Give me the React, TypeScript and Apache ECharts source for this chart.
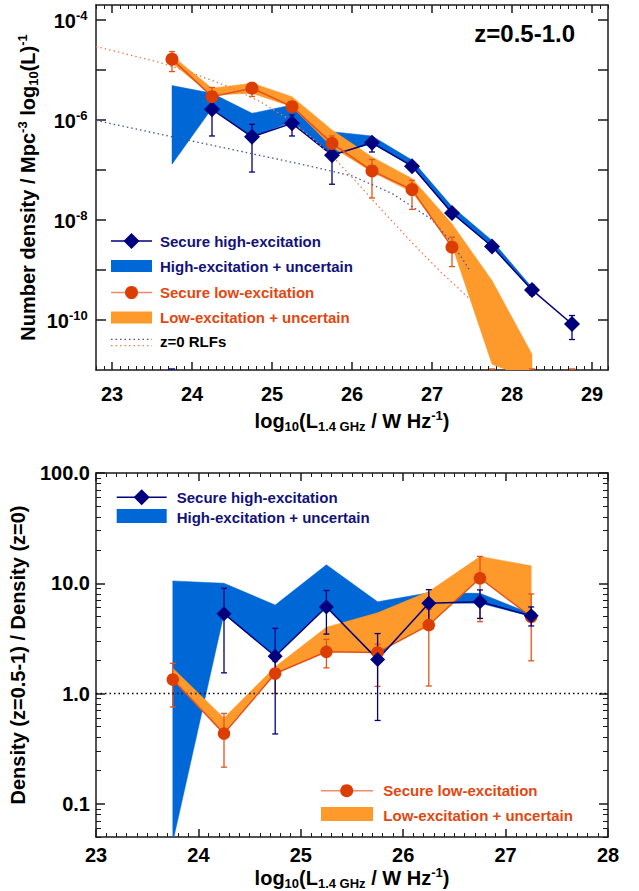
import React, { useEffect, useRef } from 'react';
import * as echarts from 'echarts';

const FONT = '"Liberation Sans", Arial, Helvetica, sans-serif';
const NAVY = '#00007f';
const BLUE_BAND = '#0067d6';
const ORANGE_BAND = '#fe9a2c';
const ORANGE_PT = '#dc3d00';
const ORANGE_LINE = '#e4521c';
const ORANGE_LEGEND_LINE = '#f08c68';
const BLUE_DOT = '#4d4da6';
const ORANGE_DOT = '#f07a4a';
const NAVY_TEXT = '#12127a';
const ORANGE_TEXT = '#e2470f';
const AXIS_COLOR = '#1a1a1a';

// ---------------- top panel: luminosity functions (Mpc^-3 log10(L)^-1) ----------------
const topHighX = [24.25, 24.75, 25.25, 25.75, 26.25, 26.75, 27.25, 27.75, 28.25, 28.75];
const topHighPhi = [1.64e-6, 4.61e-7, 8.57e-7, 1.98e-7, 3.5e-7, 1.19e-7, 1.38e-8, 2.95e-9, 4.0e-10, 8.3e-11];
const topHighErrX = [23.75, 24.25, 24.75, 25.25, 25.75, 26.25, 26.75, 27.25, 27.75, 28.25, 28.75];
const topHighErrLo = [1e-12, 4.79e-7, 9.1e-8, 4.79e-7, 5.19e-8, 2.29e-7, 1.0e-7, 1.17e-8, 2.51e-9, 3.16e-10, 4.07e-11];
const topHighErrHi = [1.05e-11, 2.4e-6, 8.18e-7, 1.26e-6, 2.82e-7, 4.37e-7, 1.41e-7, 1.58e-8, 3.47e-9, 5.0e-10, 1.23e-10];
const topHighBandX = [23.75, 24.25, 24.75, 25.25, 25.75, 26.25, 26.75, 27.25, 27.75, 28.25];
const topHighBandHi = [4.88e-6, 3.43e-6, 1.36e-6, 2.0e-6, 5.81e-7, 4.79e-7, 1.58e-7, 1.86e-8, 3.89e-9, 4.47e-10];
const topHighBandLo = [1.31e-7, 1.71e-6, 4.61e-7, 9.23e-7, 1.98e-7, 3.39e-7, 1.2e-7, 1.35e-8, 2.95e-9, 3.98e-10];

const topLowX = [23.75, 24.25, 24.75, 25.25, 25.75, 26.25, 26.75, 27.25];
const topLowPhi = [1.65e-5, 2.93e-6, 4.32e-6, 1.85e-6, 3.4e-7, 9.6e-8, 4.06e-8, 2.86e-9];
const topLowErrX = [23.75, 24.25, 24.75, 25.25, 25.75, 26.25, 26.75, 27.25, 27.75, 28.25, 28.75];
const topLowErrLo = [9.3e-6, 1.48e-6, 2.95e-6, 1.51e-6, 1.7e-7, 2.75e-8, 1.63e-8, 1.17e-9, 1e-12, 1e-12, 1e-12];
const topLowErrHi = [2.34e-5, 4.47e-6, 5.62e-6, 2.19e-6, 4.79e-7, 1.62e-7, 6.24e-8, 4.54e-9, 1.05e-11, 1.05e-11, 1.05e-11];
const topLowBandX = [23.75, 24.25, 24.75, 25.25, 25.75, 26.25, 26.75, 27.25, 27.75, 28.25];
const topLowBandHi = [1.92e-5, 4.32e-6, 5.45e-6, 2.93e-6, 6.3e-7, 1.83e-7, 6.75e-8, 8.43e-9, 6.14e-10, 2.07e-11];
const topLowBandLo = [1.37e-5, 3.17e-6, 3.43e-6, 1.85e-6, 2.9e-7, 9.16e-8, 3.63e-8, 3.1e-9, 1.31e-11, 6.3e-12];

const rlfHighX = [22.8, 24.0, 25.0, 25.5, 26.0, 26.5, 27.0, 27.25, 27.47];
const rlfHighPhi = [9.8e-7, 3.8e-7, 1.74e-7, 1.17e-7, 7.6e-8, 3.4e-8, 1.02e-8, 3.5e-9, 1.0e-9];
const rlfLowX = [22.8, 23.6, 24.0, 24.5, 24.85, 25.2, 25.5, 25.8, 26.1, 26.4, 26.76, 27.1, 27.47];
const rlfLowPhi = [2.95e-5, 1.41e-5, 8.7e-6, 4.37e-6, 2.34e-6, 1.07e-6, 4.37e-7, 1.58e-7, 4.8e-8, 1.41e-8, 3.4e-9, 9.5e-10, 2.63e-10];

// ---------------- bottom panel: density ratio z=0.5-1 / z=0 ----------------
const ratioHighX = [24.25, 24.75, 25.25, 25.75, 26.25, 26.75, 27.25];
const ratioHigh = [5.3, 2.18, 6.1, 2.04, 6.6, 6.8, 5.07];
const ratioHighLo = [1.54, 0.43, 3.46, 0.57, 4.38, 4.8, 4.1];
const ratioHighHi = [9.0, 3.9, 8.6, 3.5, 8.75, 8.7, 6.1];
const ratioBandX = [23.75, 24.25, 24.75, 25.25, 25.75, 26.25, 26.75, 27.25];
const ratioHighBandHi = [10.5, 10.0, 6.35, 14.7, 6.8, 8.2, 8.1, 5.3];
const ratioHighBandLo = [0.045, 5.3, 2.18, 6.1, 2.04, 6.6, 6.6, 5.0];
const ratioLowX = [23.75, 24.25, 24.75, 25.25, 25.75, 26.25, 26.75, 27.25];
const ratioLow = [1.34, 0.433, 1.52, 2.39, 2.36, 4.18, 11.1, 4.97];
const ratioLowLo = [0.755, 0.215, 1.0, 1.71, 1.16, 1.17, 4.48, 1.98];
const ratioLowHi = [1.88, 0.66, 1.95, 3.1, 2.8, 5.8, 17.5, 8.0];
const ratioLowBandHi = [1.7, 0.6, 1.75, 4.0, 5.4, 8.4, 17.5, 14.4];
const ratioLowBandLo = [1.34, 0.433, 1.52, 2.39, 2.36, 4.18, 11.1, 4.97];
const ratioUnity = [1, 1];
const ratioUnityX = [23, 28];

// ---------------- ticks ----------------
const topXTicks = [23, 24, 25, 26, 27, 28, 29];
const bottomXTicks = [23, 24, 25, 26, 27, 28];
const topYTickExps = [-10, -9, -8, -7, -6, -5, -4];
const topYLabelExps = [-10, -8, -6, -4];
const ratioMajorTicks = [0.1, 1, 10, 100];
const ratioMinorTicks = [0.05, 0.06, 0.07, 0.08, 0.09, 0.2, 0.3, 0.4, 0.5, 0.6, 0.7, 0.8, 0.9,
  2, 3, 4, 5, 6, 7, 8, 9, 20, 30, 40, 50, 60, 70, 80, 90];

const L = Math.log10;

function tenths(min: number, max: number): number[] {
  const out: number[] = [];
  for (let k = Math.ceil(min * 10); k <= Math.floor(max * 10); k++) {
    if (k % 10 !== 0) out.push(k / 10);
  }
  return out;
}

const lineStyle = { color: AXIS_COLOR, width: 1.5 };

const titleRich = {
  n: { fontSize: 20, fontWeight: 'bold', fontFamily: FONT, color: '#000', lineHeight: 24 },
  sub: { fontSize: 13, fontWeight: 'bold', fontFamily: FONT, color: '#000', lineHeight: 10, verticalAlign: 'bottom' },
  sup: { fontSize: 13, fontWeight: 'bold', fontFamily: FONT, color: '#000', lineHeight: 14, verticalAlign: 'top' },
};

const xTitle = '{n|log}{sub|10}{n|(L}{sub|1.4 GHz}{n| / W Hz}{sup|-1}{n|)}';

function xAxes(grid: number, min: number, max: number, majors: number[], labelMargin: number, nameGap: number) {
  const minors = tenths(min, max);
  const base = { type: 'value', gridIndex: grid, min, max, splitLine: { show: false } };
  return [
    {
      ...base, position: 'bottom',
      axisLine: { show: true, onZero: false, lineStyle },
      axisTick: { show: true, inside: true, length: 8, customValues: majors, lineStyle },
      axisLabel: {
        show: true, customValues: majors, margin: labelMargin, fontSize: 20, fontWeight: 'bold',
        fontFamily: FONT, color: '#000',
      },
      name: xTitle, nameLocation: 'middle', nameGap,
      nameTextStyle: { rich: titleRich },
    },
    {
      ...base, position: 'bottom',
      axisLine: { show: false, onZero: false },
      axisTick: { show: true, inside: true, length: 4, customValues: minors, lineStyle: { color: AXIS_COLOR, width: 1 } },
      axisLabel: { show: false },
    },
    {
      ...base, position: 'top',
      axisLine: { show: true, onZero: false, lineStyle },
      axisTick: { show: true, inside: true, length: 8, customValues: majors, lineStyle },
      axisLabel: { show: false },
    },
    {
      ...base, position: 'top',
      axisLine: { show: false, onZero: false },
      axisTick: { show: true, inside: true, length: 4, customValues: minors, lineStyle: { color: AXIS_COLOR, width: 1 } },
      axisLabel: { show: false },
    },
  ];
}

function bandSeries(xIdx: number, yIdx: number, xs: number[], lo: number[], hi: number[], color: string) {
  return {
    type: 'custom', xAxisIndex: xIdx, yAxisIndex: yIdx, clip: true, silent: true,
    data: xs.map((x, i) => [x, L(lo[i]), L(hi[i])]),
    encode: { x: 0, y: [1, 2] },
    renderItem: (params: any, api: any) => {
      if (params.dataIndex !== 0) return null;
      const pts: number[][] = [];
      xs.forEach((x, i) => pts.push(api.coord([x, L(hi[i])])));
      for (let i = xs.length - 1; i >= 0; i--) pts.push(api.coord([xs[i], L(lo[i])]));
      return { type: 'polygon', shape: { points: pts }, style: { fill: color, stroke: color, lineWidth: 0.5 } };
    },
  };
}

function errSeries(xIdx: number, yIdx: number, xs: number[], lo: number[], hi: number[], color: string) {
  return {
    type: 'custom', xAxisIndex: xIdx, yAxisIndex: yIdx, clip: true, silent: true,
    data: xs.map((x, i) => [x, L(lo[i]), L(hi[i])]),
    encode: { x: 0, y: [1, 2] },
    renderItem: (params: any, api: any) => {
      const x = api.value(0);
      const a = api.coord([x, api.value(1)]);
      const b = api.coord([x, api.value(2)]);
      const st = { stroke: color, lineWidth: 1.3 };
      return {
        type: 'group',
        children: [
          { type: 'line', shape: { x1: a[0], y1: a[1], x2: b[0], y2: b[1] }, style: st },
          { type: 'line', shape: { x1: a[0] - 3, y1: a[1], x2: a[0] + 3, y2: a[1] }, style: st },
          { type: 'line', shape: { x1: b[0] - 3, y1: b[1], x2: b[0] + 3, y2: b[1] }, style: st },
        ],
      };
    },
  };
}

function pointSeries(xIdx: number, yIdx: number, xs: number[], vals: number[], symbol: string, size: number, fill: string, lineColor: string) {
  return {
    type: 'line', xAxisIndex: xIdx, yAxisIndex: yIdx, silent: true,
    data: xs.map((x, i) => [x, L(vals[i])]),
    symbol, symbolSize: size, showSymbol: true,
    itemStyle: { color: fill, borderWidth: 0 },
    lineStyle: { color: lineColor, width: 1.5 },
  };
}

function dottedSeries(xIdx: number, yIdx: number, xs: number[], vals: number[], color: string, width = 1.3) {
  return {
    type: 'line', xAxisIndex: xIdx, yAxisIndex: yIdx, silent: true,
    data: xs.map((x, i) => [x, L(vals[i])]),
    symbol: 'none',
    lineStyle: { color, width, type: [1.5, 3] },
  };
}

function diamond(cx: number, cy: number, r: number, fill: string) {
  return {
    type: 'polygon',
    shape: { points: [[cx, cy - r], [cx + r, cy], [cx, cy + r], [cx - r, cy]] },
    style: { fill },
  };
}

function textEl(x: number, y: number, text: string, color: string, font: string, align: string) {
  return {
    type: 'text', x, y,
    style: {
      text, fill: color, font,
      textAlign: align, textVerticalAlign: 'middle', align, verticalAlign: 'middle',
    },
  };
}

function legendText(x: number, y: number, text: string, color: string) {
  return textEl(x, y, text, color, `bold 15px ${FONT}`, 'left');
}

function hline(x1: number, x2: number, y: number, color: string, width: number, dash?: number[]) {
  return {
    type: 'line', shape: { x1, y1: y, x2, y2: y },
    style: { stroke: color, lineWidth: width, lineDash: dash },
  };
}

function baseGraphic() {
  return [
    textEl(575, 33, 'z=0.5-1.0', '#000', `bold 24px ${FONT}`, 'right'),
    // top legend
    hline(111, 152, 241, NAVY, 1.5),
    diamond(131.5, 241, 8, NAVY),
    legendText(160, 241, 'Secure high-excitation', NAVY_TEXT),
    { type: 'rect', shape: { x: 111, y: 260, width: 41, height: 12 }, style: { fill: BLUE_BAND } },
    legendText(160, 266.5, 'High-excitation + uncertain', NAVY_TEXT),
    hline(111, 152, 292.5, ORANGE_LEGEND_LINE, 1.5),
    { type: 'circle', shape: { cx: 131.5, cy: 292.5, r: 6.5 }, style: { fill: ORANGE_PT } },
    legendText(160, 292.5, 'Secure low-excitation', ORANGE_TEXT),
    { type: 'rect', shape: { x: 111, y: 311.5, width: 41, height: 12 }, style: { fill: ORANGE_BAND } },
    legendText(160, 317.5, 'Low-excitation + uncertain', ORANGE_TEXT),
    hline(111, 152, 339.3, BLUE_DOT, 1.2, [1.5, 3]),
    hline(111, 152, 345.7, ORANGE_DOT, 1.2, [1.5, 3]),
    legendText(160, 341.5, 'z=0 RLFs', '#000'),
    // bottom legend (upper left)
    hline(116.7, 166.7, 497.3, NAVY, 1.5),
    diamond(141.7, 497.3, 8, NAVY),
    legendText(176.7, 497.3, 'Secure high-excitation', NAVY_TEXT),
    { type: 'rect', shape: { x: 116.7, y: 509, width: 50, height: 14 }, style: { fill: BLUE_BAND } },
    legendText(176.7, 517.7, 'High-excitation + uncertain', NAVY_TEXT),
    // bottom legend (lower right)
    hline(321, 373, 790.7, ORANGE_LEGEND_LINE, 1.5),
    { type: 'circle', shape: { cx: 346.7, cy: 790.7, r: 6.5 }, style: { fill: ORANGE_PT } },
    legendText(383.3, 790.7, 'Secure low-excitation', ORANGE_TEXT),
    { type: 'rect', shape: { x: 321, y: 807, width: 52, height: 14 }, style: { fill: ORANGE_BAND } },
    legendText(383.3, 815, 'Low-excitation + uncertain', ORANGE_TEXT),
  ];
}

function buildOption() {
  const topMin = 22.8, topMax = 29.2;
  const xs = [
    ...xAxes(0, topMin, topMax, topXTicks, 14, 39),
    ...xAxes(1, 23, 28, bottomXTicks, 8, 26),
  ];

  const yBaseTop = { type: 'value', gridIndex: 0, min: -11, max: -3.7, splitLine: { show: false } };
  const ratioMin = L(0.05), ratioMax = 2;
  const yBaseBot = { type: 'value', gridIndex: 1, min: ratioMin, max: ratioMax, splitLine: { show: false } };
  const majorR = ratioMajorTicks.map(L);
  const minorR = ratioMinorTicks.map(L);

  const ys = [
    // 0: top-left axis with ticks and title (powers-of-ten labels added as text after layout)
    {
      ...yBaseTop, position: 'left',
      axisLine: { show: true, onZero: false, lineStyle },
      axisTick: { show: true, inside: true, length: 10, customValues: topYTickExps, lineStyle },
      axisLabel: { show: false },
      name: '{n|Number density / Mpc}{sup|-3}{n| log}{sub|10}{n|(L)}{sup|-1}',
      nameLocation: 'middle', nameRotate: 90, nameGap: 56,
      nameTextStyle: { rich: titleRich },
    },
    // 1: top-right
    {
      ...yBaseTop, position: 'right',
      axisLine: { show: true, onZero: false, lineStyle },
      axisTick: { show: true, inside: true, length: 10, customValues: topYTickExps, lineStyle },
      axisLabel: { show: false },
    },
    // 2: bottom-left with labels and title
    {
      ...yBaseBot, position: 'left',
      axisLine: { show: true, onZero: false, lineStyle },
      axisTick: { show: true, inside: true, length: 9, customValues: majorR, lineStyle },
      axisLabel: {
        show: true, customValues: majorR, margin: 6, fontSize: 20, fontWeight: 'bold', fontFamily: FONT, color: '#000',
        formatter: (v: number) => Math.pow(10, v).toFixed(1),
      },
      name: '{n|Density (z=0.5-1) / Density (z=0)}',
      nameLocation: 'middle', nameRotate: 90, nameGap: 66,
      nameTextStyle: { rich: titleRich },
    },
    // 3: bottom-left minor ticks
    {
      ...yBaseBot, position: 'left', axisLine: { show: false, onZero: false },
      axisTick: { show: true, inside: true, length: 5, customValues: minorR, lineStyle: { color: AXIS_COLOR, width: 1 } },
      axisLabel: { show: false },
    },
    // 4: bottom-right
    {
      ...yBaseBot, position: 'right',
      axisLine: { show: true, onZero: false, lineStyle },
      axisTick: { show: true, inside: true, length: 9, customValues: majorR, lineStyle },
      axisLabel: { show: false },
    },
    // 5: bottom-right minor ticks
    {
      ...yBaseBot, position: 'right', axisLine: { show: false, onZero: false },
      axisTick: { show: true, inside: true, length: 5, customValues: minorR, lineStyle: { color: AXIS_COLOR, width: 1 } },
      axisLabel: { show: false },
    },
  ];

  const BX = 4, BY = 2;
  const series = [
    // top panel
    bandSeries(0, 0, topHighBandX, topHighBandLo, topHighBandHi, BLUE_BAND),
    errSeries(0, 0, topHighErrX, topHighErrLo, topHighErrHi, NAVY),
    pointSeries(0, 0, topHighX, topHighPhi, 'diamond', 16, NAVY, NAVY),
    bandSeries(0, 0, topLowBandX, topLowBandLo, topLowBandHi, ORANGE_BAND),
    dottedSeries(0, 0, rlfHighX, rlfHighPhi, BLUE_DOT),
    dottedSeries(0, 0, rlfLowX, rlfLowPhi, ORANGE_DOT),
    errSeries(0, 0, topLowErrX, topLowErrLo, topLowErrHi, ORANGE_LINE),
    pointSeries(0, 0, topLowX, topLowPhi, 'circle', 13, ORANGE_PT, ORANGE_LINE),
    // bottom panel
    dottedSeries(BX, BY, ratioUnityX, ratioUnity, '#000', 1.5),
    bandSeries(BX, BY, ratioBandX, ratioHighBandLo, ratioHighBandHi, BLUE_BAND),
    bandSeries(BX, BY, ratioBandX, ratioLowBandLo, ratioLowBandHi, ORANGE_BAND),
    errSeries(BX, BY, ratioLowX, ratioLowLo, ratioLowHi, ORANGE_LINE),
    pointSeries(BX, BY, ratioLowX, ratioLow, 'circle', 12.5, ORANGE_PT, ORANGE_LINE),
    errSeries(BX, BY, ratioHighX, ratioHighLo, ratioHighHi, NAVY),
    pointSeries(BX, BY, ratioHighX, ratioHigh, 'diamond', 15, NAVY, NAVY),
  ];

  return {
    animation: false,
    backgroundColor: '#fff',
    grid: [
      { left: 96, top: 5, width: 512, height: 365 },
      { left: 96, top: 473, width: 512, height: 364 },
    ],
    xAxis: xs,
    yAxis: ys,
    series,
    graphic: baseGraphic(),
  };
}

// Power-of-ten tick labels of the upper panel, placed at the y positions given by the axis scale.
function powerLabels(chart: echarts.ECharts) {
  const els: any[] = [];
  const right = 88;
  topYLabelExps.forEach((e) => {
    const y = chart.convertToPixel({ yAxisIndex: 0 }, e) as unknown as number;
    const exp = String(e);
    const expWidth = exp.length > 2 ? 19 : 12;
    els.push(textEl(right - expWidth, y + 0.5, '10', '#000', `bold 20px ${FONT}`, 'right'));
    els.push(textEl(right - expWidth, y - 4.5, exp, '#000', `bold 13px ${FONT}`, 'left'));
  });
  return els;
}

export default function App() {
  const ref = useRef<HTMLDivElement>(null);
  useEffect(() => {
    if (!ref.current) return;
    const chart = echarts.init(ref.current, null, { renderer: 'svg' });
    chart.setOption(buildOption() as any);
    chart.setOption({ graphic: [...baseGraphic(), ...powerLabels(chart)] } as any);
    return () => chart.dispose();
  }, []);
  return (
    <div
      ref={ref}
      style={{ position: 'absolute', left: 0, top: 0, width: 639, height: 891, background: '#fff' }}
    />
  );
}
